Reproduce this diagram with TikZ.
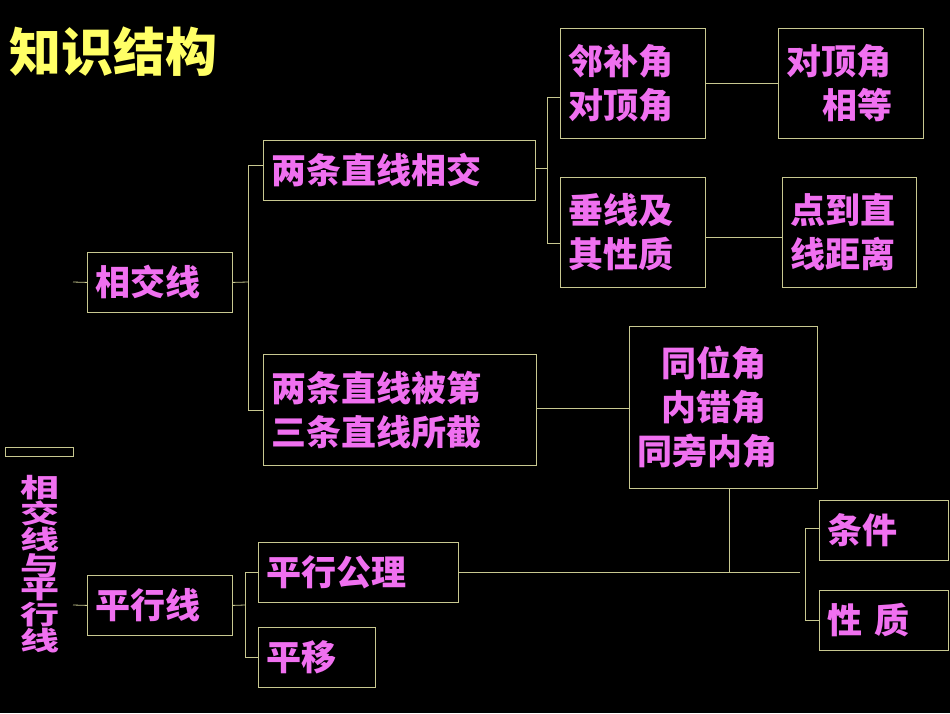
\documentclass[tikz,border=0pt]{standalone}
\usepackage{fontspec}
\usepackage{tikz}
\usetikzlibrary{positioning}
\newfontfamily\cjk{Noto Sans CJK SC}
\definecolor{lineyel}{HTML}{C8C890}
\definecolor{txtpink}{HTML}{F070F0}
\definecolor{titleyel}{HTML}{FFFF66}
\tikzset{
    item/.style={
        rectangle, draw=lineyel, line width=0.8pt,
        inner xsep=8pt, inner ysep=0pt, align=left,
        text=txtpink, font=\cjk\bfseries\fontsize{35}{44}\selectfont
    },
    link/.style={draw=lineyel, line width=0.8pt}
}
\newcommand{\boxat}[6]{%
    \node[item, minimum width=#4-#2, minimum height=#5-#3, text width=#4-#2-16,
        anchor=north west] (#1) at (#2,-#3) {#6};}

\begin{document}
\begin{tikzpicture}[x=1pt, y=1pt]
        \fill[black] (0,0) rectangle (950,-713);
        \useasboundingbox (0,0) rectangle (950,-713);

        % Title
        \node[text=titleyel, font=\cjk\bfseries\fontsize{52}{56}\selectfont, anchor=west]
            (title) at (6,-52) {知识结构};

        % Root
        \node[draw=lineyel, line width=0.8pt, minimum width=68, minimum height=9,
            inner sep=0pt, anchor=north west] (root) at (5,-447) {};
        \node[text=txtpink, font=\cjk\bfseries\fontsize{26}{5}\selectfont, align=center,
            anchor=north, xscale=1.5] (rootlabel) at (40,-472) {相\\交\\线\\与\\平\\行\\线};

        % Level 1
        \boxat{xj}{87}{252}{232}{312}{相交线}
        \boxat{px}{87}{575}{232}{635}{平行线}

        % Level 2
        \boxat{lxj}{263}{140}{535}{200}{两条直线相交}
        \boxat{lsj}{263}{354}{536}{465}{两条直线被第\\三条直线所截}
        \boxat{gl}{258}{542}{458}{602}{平行公理}
        \boxat{py}{258}{627}{375}{687}{平移}

        % Level 3
        \boxat{lbj}{560}{28}{705}{138}{邻补角\\对顶角}
        \boxat{cx}{560}{177}{705}{287}{垂线及\\其性质}
        \boxat{tw}{629}{326}{817}{488}{\hspace*{24pt}同位角\\\hspace*{24pt}内错角\\同旁内角}

        % Level 4
        \boxat{dd}{778}{28}{923}{138}{对顶角\\\hspace*{36pt}相等}
        \boxat{jl}{782}{177}{916}{287}{点到直\\线距离}
        \boxat{tj}{819}{500}{948}{560}{条件}
        \boxat{xz}{819}{590}{948}{650}{性\ 质}

        % Connectors
        \draw[link] (73,-282) -- (xj.west);
        \draw[link] (73,-605) -- (px.west);
        \draw[link] (xj.east) -- (248,-282);
        \draw[link] (263,-165) -- (248,-165) -- (248,-410) -- (263,-410);
        \draw[link] (px.east) -- (245,-605);
        \draw[link] (258,-572) -- (245,-572) -- (245,-657) -- (258,-657);
        \draw[link] (535,-168) -- (547,-168);
        \draw[link] (560,-97) -- (547,-97) -- (547,-243) -- (560,-243);
        \draw[link] (705,-83) -- (dd.west |- 0,-83);
        \draw[link] (705,-237) -- (jl.west |- 0,-237);
        \draw[link] (536,-408) -- (tw.west |- 0,-408);
        \draw[link] (729,-488) -- (729,-572);
        \draw[link] (gl.east |- 0,-572) -- (800,-572);
        \draw[link] (819,-528) -- (805,-528) -- (805,-620) -- (819,-620);
\end{tikzpicture}
\end{document}
